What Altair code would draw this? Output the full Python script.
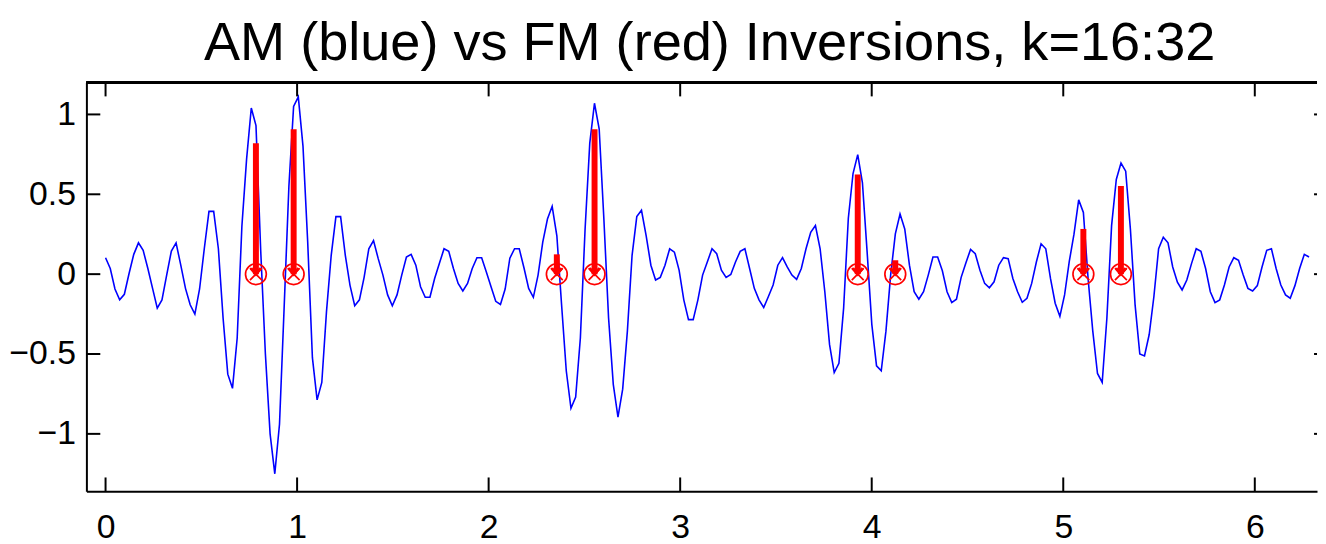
import math
import altair as alt
import pandas as pd

# ---- data ----
N_SAMPLES = 256
am_values = [
    0.103, 0.035, -0.093, -0.161, -0.126, 0.004, 0.124, 0.196, 0.149, 0.035,
    -0.089, -0.213, -0.161, -0.006, 0.145, 0.196, 0.056, -0.089, -0.192, -0.25,
    -0.093, 0.159, 0.393, 0.393, 0.159, -0.275, -0.626, -0.715, -0.40, 0.30,
    0.72, 1.04, 0.93, 0.15, -0.5, -1.0, -1.25, -0.94, -0.2, 0.55,
    1.05, 1.11, 0.80, 0.2, -0.523, -0.787, -0.678, -0.233, 0.118, 0.36,
    0.36, 0.118, -0.07, -0.198, -0.161, -0.02, 0.159, 0.21, 0.097, -0.006,
    -0.13, -0.198, -0.13, -0.006, 0.107, 0.124, 0.056, -0.079, -0.145, -0.145,
    -0.027, 0.066, 0.159, 0.143, 0.035, -0.058, -0.105, -0.058, 0.035, 0.103,
    0.103, 0.014, -0.079, -0.17, -0.19, -0.093, 0.1, 0.159, 0.159, 0.04,
    -0.089, -0.145, -0.006, 0.2, 0.345, 0.425, 0.24, -0.19, -0.605, -0.84,
    -0.77, -0.40, 0.28, 0.82, 1.07, 0.91, 0.345, -0.275, -0.69, -0.895,
    -0.72, -0.357, 0.118, 0.36, 0.40, 0.24, 0.056, -0.037, -0.02, 0.056,
    0.159, 0.138, 0.025, -0.161, -0.285, -0.285, -0.161, -0.006, 0.076, 0.159,
    0.128, 0.025, -0.02, -0.002, 0.076, 0.143, 0.159, 0.035, -0.089, -0.161,
    -0.209, -0.14, -0.068, 0.056, 0.103, 0.045, -0.006, -0.033, 0.035, 0.159,
    0.262, 0.304, 0.159, -0.11, -0.44, -0.616, -0.558, -0.213, 0.35, 0.63,
    0.748, 0.572, 0.138, -0.316, -0.574, -0.605, -0.357, -0.006, 0.252, 0.376,
    0.283, 0.056, -0.11, -0.157, -0.11, -0.006, 0.107, 0.107, 0.021, -0.11,
    -0.178, -0.157, -0.02, 0.07, 0.155, 0.128, 0.025, -0.058, -0.085, -0.048,
    0.056, 0.103, 0.097, -0.027, -0.11, -0.176, -0.151, -0.058, 0.076, 0.19,
    0.159, -0.027, -0.182, -0.264, -0.13, 0.08, 0.25, 0.465, 0.386, -0.027,
    -0.357, -0.622, -0.678, -0.275, 0.304, 0.593, 0.696, 0.645, 0.283, -0.192,
    -0.50, -0.512, -0.378, -0.14, 0.159, 0.231, 0.196, 0.045, -0.05, -0.099,
    -0.037, 0.066, 0.159, 0.143, 0.035, -0.11, -0.178, -0.161, -0.068, 0.045,
    0.103, 0.087, -0.006, -0.089, -0.105, -0.072, 0.045, 0.149, 0.159, 0.035,
    -0.068, -0.13, -0.151, -0.072, 0.035, 0.124, 0.107,
]
am_x = [2 * math.pi * i / N_SAMPLES for i in range(len(am_values))]

fm_x = [0.785, 0.982, 2.356, 2.553, 3.927, 4.123, 5.105, 5.301]
fm_top = [0.82, 0.907, 0.124, 0.907, 0.624, 0.087, 0.283, 0.552]

x_ticks = [0, 1, 2, 3, 4, 5, 6]
y_ticks = [-1, -0.5, 0, 0.5, 1]

title_text = "AM (blue) vs FM (red) Inversions, k=16:32"

# ---- layout / style ----
W, H = 1240, 412
FONT = "Liberation Sans"
RED = "#ff0000"
BLUE = "#0000ff"
TICK = 14

xs = alt.Scale(domain=[-0.1, 6.3248], nice=False, zero=False)
ys = alt.Scale(domain=[-1.36, 1.2], nice=False, zero=False)

x_axis = alt.Axis(
    values=x_ticks, format="d", title=None, ticks=False, grid=False,
    domainColor="black", domainWidth=2, labelFontSize=34, labelFont=FONT,
    labelColor="black", labelPadding=19)
y_axis = alt.Axis(
    values=y_ticks, format="~g", title=None, ticks=False, grid=False,
    domainColor="black", domainWidth=2, labelFontSize=34, labelFont=FONT,
    labelColor="black", labelPadding=11)


def X(field):
    return alt.X(field, scale=xs, axis=x_axis)


def Y(field):
    return alt.Y(field, scale=ys, axis=y_axis)


am_df = pd.DataFrame({"x": am_x, "y": am_values})
fm_df = pd.DataFrame({"x": fm_x, "top": fm_top})
xt_df = pd.DataFrame({"x": x_ticks})
yt_df = pd.DataFrame({"y": y_ticks})

line = alt.Chart(am_df).mark_line(color=BLUE, strokeWidth=1.6, clip=True).encode(
    x=X("x:Q"), y=Y("y:Q"))

fm_base = alt.Chart(fm_df).transform_calculate(y="0")

shaft = fm_base.mark_rule(color=RED, strokeWidth=6).encode(
    x=X("x:Q"), y=Y("top:Q"), y2="y:Q")
head = fm_base.mark_point(
    shape="M-1,-1.2L0,0L1,-1.2", filled=False, color=RED, strokeWidth=3,
    size=100, opacity=1).encode(x=X("x:Q"), y=Y("y:Q"))
circ = fm_base.mark_point(
    shape="circle", filled=False, color=RED, strokeWidth=1.7, size=440,
    opacity=1).encode(x=X("x:Q"), y=Y("y:Q"))
cross = fm_base.mark_point(
    shape="M-1,-1L1,1M-1,1L1,-1", filled=False, color=RED, strokeWidth=1.7,
    size=144, opacity=1).encode(x=X("x:Q"), y=Y("y:Q"))

xt_bottom = alt.Chart(xt_df).mark_rule(color="black", strokeWidth=2).encode(
    x=X("x:Q"), y=alt.value(H), y2=alt.value(H - TICK))
xt_top = alt.Chart(xt_df).mark_rule(color="black", strokeWidth=2).encode(
    x=X("x:Q"), y=alt.value(0), y2=alt.value(TICK))
yt_left = alt.Chart(yt_df).mark_rule(color="black", strokeWidth=2).encode(
    y=Y("y:Q"), x=alt.value(0), x2=alt.value(TICK))
yt_right = alt.Chart(yt_df).mark_rule(color="black", strokeWidth=2).encode(
    y=Y("y:Q"), x=alt.value(W - 3), x2=alt.value(W))
top_border = alt.Chart(xt_df).mark_rule(color="black", strokeWidth=2).encode(
    x=alt.value(0), x2=alt.value(W), y=alt.value(0))

chart = alt.layer(
    line, shaft, head, circ, cross, xt_bottom, xt_top, yt_left, yt_right, top_border
).properties(
    width=W, height=H,
    padding={"left": 0, "right": 0, "top": 6, "bottom": 0},
    title=alt.TitleParams(
        title_text, fontSize=54.5, font=FONT, fontWeight="normal", color="black",
        anchor="middle", dx=8, offset=10),
).configure(background="white").configure_view(stroke=None)

chart.save("out.html", embed_options={"renderer": "svg", "actions": False})
